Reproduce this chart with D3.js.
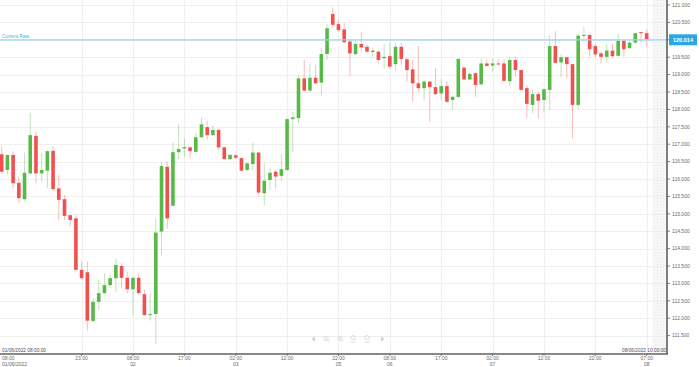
<!DOCTYPE html>
<html><head><meta charset="utf-8">
<script src="https://cdn.jsdelivr.net/npm/d3@7"></script>
<style>html,body{margin:0;padding:0;background:#fff;}svg{display:block;}</style>
</head><body>
<script>
// ---- data ----
const opens  = [116.71,116.26,116.69,115.89,115.42,116.16,117.24,116.16,116.24,116.81,115.73,115.42,114.96,114.87,113.39,113.32,111.92,112.47,112.72,112.95,113.15,113.50,113.16,112.83,113.16,112.69,112.09,112.12,114.49,116.35,115.23,116.77,116.88,116.91,116.78,117.20,117.49,117.26,117.41,116.91,116.57,116.68,116.60,116.26,116.43,116.76,115.59,115.97,116.21,116.09,116.26,117.72,117.75,118.89,118.54,118.91,118.77,119.59,120.74,120.45,120.30,119.95,119.59,119.88,119.80,119.65,119.66,119.47,119.53,119.30,119.80,119.44,119.15,118.75,118.61,118.80,118.64,118.46,118.67,118.27,118.36,119.20,118.86,119.04,118.72,119.32,119.26,119.32,119.32,118.81,119.42,119.13,118.61,118.13,118.44,118.27,118.56,119.82,119.35,119.50,119.30,118.13,120.11,120.14,119.82,119.61,119.51,119.69,119.54,119.97,119.76,119.92,120.22,120.19];
const highs  = [116.95,116.71,116.80,116.07,116.76,117.90,117.36,116.74,116.83,116.93,116.11,115.54,114.96,114.96,113.62,113.62,112.57,113.10,113.29,113.24,113.72,113.58,113.34,113.19,113.29,112.83,112.72,114.87,116.50,116.50,117.05,117.57,117.17,116.95,117.31,117.77,117.67,117.55,117.43,116.93,116.72,116.72,116.62,116.47,117.05,116.79,116.45,116.31,116.28,116.72,117.74,117.93,118.99,119.44,119.32,119.28,119.77,120.45,120.93,120.57,120.49,120.00,119.95,120.23,119.87,119.76,119.69,119.88,119.92,119.92,119.90,119.47,119.42,119.83,118.85,118.80,119.18,118.87,118.82,118.38,119.47,119.23,119.04,119.08,119.47,119.44,119.45,119.44,119.44,119.52,119.50,119.15,118.70,118.56,118.51,118.61,120.14,120.25,119.59,119.51,119.32,120.17,120.38,120.14,119.88,119.66,119.88,119.88,120.17,120.01,119.95,120.20,120.23,120.30];
const lows   = [116.16,116.13,115.73,115.30,115.36,116.16,115.88,115.92,115.73,115.66,114.82,114.82,114.63,113.39,113.10,111.64,111.88,112.24,112.72,112.86,112.76,112.86,112.72,112.09,112.67,112.06,111.93,111.26,113.82,114.58,115.23,116.57,116.64,116.60,116.78,117.20,117.12,117.24,116.83,116.57,116.55,116.57,116.21,116.23,116.26,115.51,115.23,115.68,115.73,115.94,116.23,116.77,117.60,118.51,118.51,118.73,118.39,119.42,120.38,120.23,119.90,118.96,119.56,119.66,119.63,119.50,119.32,119.18,119.18,119.11,119.28,118.80,118.22,118.51,118.27,117.65,118.41,118.27,118.18,117.98,118.32,118.84,118.84,118.36,118.70,119.23,119.08,119.27,118.80,118.67,118.94,118.53,117.76,117.89,117.74,117.93,117.98,119.32,118.92,118.89,117.17,118.00,119.95,119.51,119.50,119.32,119.34,119.47,119.51,119.51,119.74,119.88,119.92,119.80];
const closes = [116.21,116.69,115.88,115.45,116.18,117.26,116.16,116.26,116.80,115.71,115.40,114.94,114.82,113.39,113.15,111.93,112.47,112.72,112.95,113.15,113.53,113.16,112.83,113.16,112.72,112.09,112.12,114.46,116.37,114.87,116.77,116.86,116.92,116.80,117.20,117.57,117.26,117.41,116.91,116.57,116.69,116.61,116.24,116.45,116.76,115.61,115.95,116.18,116.07,116.28,117.72,117.77,118.89,118.54,118.91,118.75,119.59,120.33,120.43,120.28,119.93,119.61,119.88,119.78,119.66,119.69,119.42,119.51,119.23,119.80,119.45,119.13,118.75,118.61,118.80,118.64,118.44,118.67,118.22,118.36,119.45,118.86,119.02,118.70,119.32,119.25,119.32,119.29,118.82,119.42,119.13,118.56,118.16,118.44,118.25,118.58,119.82,119.34,119.50,119.30,118.13,120.12,120.14,119.73,119.58,119.51,119.69,119.53,119.97,119.73,119.92,120.19,120.19,120.014];
const currentRate = 120.014;
const xTickIdx = [14,23,32,41,50,59,68,77,86,95,104,113];
const xTickTime = ["23:00","08:00","17:00","02:00","12:00","22:00","08:00","17:00","02:00","12:00","22:00","07:00"];
const xTickDay  = ["","02","","03","","05","06","","07","","","08"];
const firstLabel = ["08:00","01/06/2022"];
const yTicks = [111.5,112,112.5,113,113.5,114,114.5,115,115.5,116,116.5,117,117.5,118,118.5,119,119.5,120,120.5,121];
const startStamp = "01/06/2022 08:00:00";
const endStamp = "08/06/2022 10:00:00";

// ---- layout ----
const W = 699, H = 367;
const plotR = 667, plotB = 354;
const font = "'Liberation Sans', Arial, sans-serif";
const green = "#58b947", red = "#f24f4f";

const svg = d3.select("body").append("svg").attr("width", W).attr("height", H);
const defs = svg.append("defs");
const pat = defs.append("pattern").attr("id","hatch").attr("patternUnits","userSpaceOnUse")
  .attr("width",3).attr("height",3);
pat.append("rect").attr("width",3).attr("height",3).attr("fill","#f7f7f7");
pat.append("rect").attr("x",0).attr("y",0).attr("width",1).attr("height",1).attr("fill","#e6e6e6");

const x = d3.scaleLinear().domain([0, 113]).range([1.7, 646.7]);
const y = d3.scaleLinear().domain([111.5, 121]).range([335.6, 5]);

// hatched future area
svg.append("rect").attr("x", 652.5).attr("y", 0).attr("width", plotR - 652.5).attr("height", plotB)
  .attr("fill", "url(#hatch)");

// grid
svg.append("g").selectAll("line").data(yTicks).join("line")
  .attr("x1", 0).attr("x2", plotR).attr("y1", d => Math.round(y(d))+0.5).attr("y2", d => Math.round(y(d))+0.5)
  .attr("stroke", "#efefef").attr("stroke-width", 1);
svg.append("g").selectAll("line").data(xTickIdx).join("line")
  .attr("x1", d => Math.round(x(d))+0.5).attr("x2", d => Math.round(x(d))+0.5).attr("y1", 0).attr("y2", plotB)
  .attr("stroke", "#efefef").attr("stroke-width", 1);

// nav icons
const nav = svg.append("g").attr("fill", "none").attr("stroke", "#d6d6d6").attr("stroke-width", 0.8);
nav.append("path").attr("d", "M314.5,336.5 L312,339 L314.5,341.5 Z").attr("fill", "#d6d6d6");
nav.append("path").attr("d", "M381.5,336.5 L384,339 L381.5,341.5 Z").attr("fill", "#d6d6d6");
[326, 340].forEach((cx, i) => {
  nav.append("circle").attr("cx", cx).attr("cy", 338.5).attr("r", 2.2);
  nav.append("line").attr("x1", cx+1.6).attr("y1", 340.1).attr("x2", cx+3.2).attr("y2", 341.7);
  nav.append("line").attr("x1", cx-1.1).attr("y1", 338.5).attr("x2", cx+1.1).attr("y2", 338.5);
  if (i === 1) nav.append("line").attr("x1", cx).attr("y1", 337.4).attr("x2", cx).attr("y2", 339.6);
});
[353, 367].forEach(cx => {
  nav.append("circle").attr("cx", cx).attr("cy", 337.5).attr("r", 2);
  nav.append("line").attr("x1", cx+1.4).attr("y1", 339).attr("x2", cx+2.6).attr("y2", 340.2);
  nav.append("line").attr("x1", cx-2.5).attr("y1", 342).attr("x2", cx+2.5).attr("y2", 342);
});

// candles
const data = opens.map((o, i) => ({i, o, h: highs[i], l: lows[i], c: closes[i]}));
const cg = svg.append("g");
cg.selectAll("line").data(data).join("line")
  .attr("x1", d => x(d.i)).attr("x2", d => x(d.i))
  .attr("y1", d => y(d.h)).attr("y2", d => y(d.l))
  .attr("stroke", d => d.c >= d.o ? green : red).attr("stroke-opacity", 0.38).attr("stroke-width", 1);
cg.selectAll("rect").data(data).join("rect")
  .attr("x", d => x(d.i) - 1.8).attr("width", 3.6)
  .attr("y", d => y(Math.max(d.o, d.c)))
  .attr("height", d => Math.max(1, Math.abs(y(d.o) - y(d.c))))
  .attr("fill", d => d.c >= d.o ? green : red);

// current rate line
const ty = y(currentRate);
svg.append("line").attr("x1", 0).attr("x2", plotR).attr("y1", ty + 0.5).attr("y2", ty + 0.5)
  .attr("stroke", "#8fd8f2").attr("stroke-width", 1.2);
svg.append("text").attr("x", 2).attr("y", ty - 1.2).text("Current Rate")
  .attr("font-family", font).attr("font-size", 4.8).attr("fill", "#3fb4e6");

// axes lines
svg.append("line").attr("x1", 0).attr("x2", plotR + 1).attr("y1", plotB).attr("y2", plotB)
  .attr("stroke", "#606060").attr("stroke-width", 1.6);
svg.append("line").attr("x1", plotR).attr("x2", plotR).attr("y1", 0).attr("y2", plotB)
  .attr("stroke", "#606060").attr("stroke-width", 1.6);

// y axis labels (the tick hidden under the current-rate tag is not drawn)
const shownY = yTicks.filter(d => Math.abs(y(d) - ty) > 6);
const ya = svg.append("g");
ya.selectAll("line").data(yTicks).join("line")
  .attr("x1", plotR).attr("x2", plotR + 3).attr("y1", d => y(d)).attr("y2", d => y(d))
  .attr("stroke", "#606060").attr("stroke-width", 0.8);
ya.selectAll("text").data(shownY).join("text")
  .attr("x", 672).attr("y", d => y(d) + 1.7).text(d => d3.format(".3f")(d))
  .attr("font-family", font).attr("font-size", 5).attr("fill", "#6a6a6a");

// current rate tag
svg.append("rect").attr("x", 669).attr("y", ty - 5).attr("width", 28).attr("height", 11).attr("fill", "#29a9e1");
svg.append("text").attr("x", 683).attr("y", ty + 2.5).attr("text-anchor", "middle").text(d3.format(".3f")(currentRate))
  .attr("font-family", font).attr("font-size", 5.6).attr("font-weight", "bold").attr("fill", "#fff");

// x axis labels
const xa = svg.append("g").attr("font-family", font).attr("font-size", 5).attr("fill", "#6a6a6a");
xa.selectAll("line").data(xTickIdx).join("line")
  .attr("x1", d => x(d)).attr("x2", d => x(d)).attr("y1", plotB).attr("y2", plotB + 2)
  .attr("stroke", "#606060").attr("stroke-width", 0.8);
xa.selectAll("text.t").data(xTickIdx).join("text").attr("class", "t")
  .attr("x", d => x(d)).attr("y", 360).attr("text-anchor", "middle").text((d, i) => xTickTime[i]);
xa.selectAll("text.d").data(xTickIdx).join("text").attr("class", "d")
  .attr("x", d => x(d)).attr("y", 365.5).attr("text-anchor", "middle").text((d, i) => xTickDay[i]);
xa.append("text").attr("x", 2).attr("y", 360).text(firstLabel[0]);
xa.append("text").attr("x", 2).attr("y", 365.5).text(firstLabel[1]);

// stamps
svg.append("text").attr("x", 2).attr("y", 352).text(startStamp)
  .attr("font-family", font).attr("font-size", 4.8).attr("fill", "#505050");
svg.append("text").attr("x", 666).attr("y", 352).attr("text-anchor", "end").text(endStamp)
  .attr("font-family", font).attr("font-size", 4.8).attr("fill", "#505050");
</script>
</body></html>
